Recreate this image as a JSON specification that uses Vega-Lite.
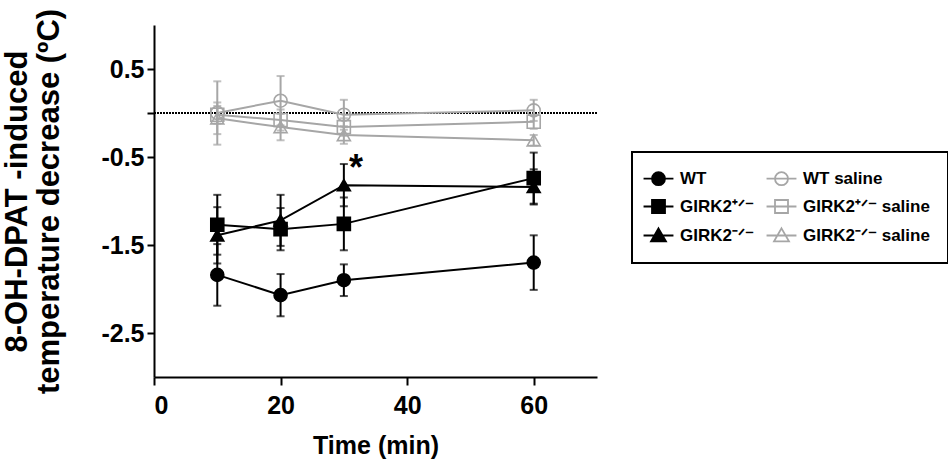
{
  "$schema": "https://vega.github.io/schema/vega-lite/v6.json",
  "width": 443,
  "height": 352,
  "autosize": {"type": "none"},
  "padding": {"left": 154, "top": 25, "right": 351, "bottom": 89},
  "background": "white",
  "config": {
    "view": {"stroke": null},
    "font": "Liberation Sans",
    "legend": {"strokeWidth": 2},
    "axis": {
      "grid": false,
      "domainColor": "black",
      "domainWidth": 2,
      "tickColor": "black",
      "tickWidth": 2,
      "tickSize": 7,
      "labelFont": "Liberation Sans",
      "labelFontSize": 25,
      "labelFontWeight": "bold",
      "labelColor": "black",
      "labelPadding": 3,
      "titleFont": "Liberation Sans",
      "titleFontSize": 25,
      "titleFontWeight": "bold",
      "titleColor": "black"
    }
  },
  "datasets": {
    "stats": [
      {"series": "WT", "time": 10, "mean": -1.84, "err": 0.35},
      {"series": "WT", "time": 20, "mean": -2.07, "err": 0.24},
      {"series": "WT", "time": 30, "mean": -1.90, "err": 0.18},
      {"series": "WT", "time": 60, "mean": -1.70, "err": 0.31},
      {"series": "GIRK2⁺ᐟ⁻", "time": 10, "mean": -1.27, "err": 0.34},
      {"series": "GIRK2⁺ᐟ⁻", "time": 20, "mean": -1.32, "err": 0.24},
      {"series": "GIRK2⁺ᐟ⁻", "time": 30, "mean": -1.26, "err": 0.30},
      {"series": "GIRK2⁺ᐟ⁻", "time": 60, "mean": -0.74, "err": 0.29},
      {"series": "GIRK2⁻ᐟ⁻", "time": 10, "mean": -1.39, "err": 0.32},
      {"series": "GIRK2⁻ᐟ⁻", "time": 20, "mean": -1.22, "err": 0.29},
      {"series": "GIRK2⁻ᐟ⁻", "time": 30, "mean": -0.82, "err": 0.24},
      {"series": "GIRK2⁻ᐟ⁻", "time": 60, "mean": -0.84, "err": 0.20},
      {"series": "WT saline", "time": 10, "mean": 0.00, "err": 0.36},
      {"series": "WT saline", "time": 20, "mean": 0.14, "err": 0.28},
      {"series": "WT saline", "time": 30, "mean": -0.02, "err": 0.17},
      {"series": "WT saline", "time": 60, "mean": 0.03, "err": 0.12},
      {"series": "GIRK2⁺ᐟ⁻ saline", "time": 10, "mean": -0.02, "err": 0.10},
      {"series": "GIRK2⁺ᐟ⁻ saline", "time": 20, "mean": -0.08, "err": 0.12},
      {"series": "GIRK2⁺ᐟ⁻ saline", "time": 30, "mean": -0.16, "err": 0.10},
      {"series": "GIRK2⁺ᐟ⁻ saline", "time": 60, "mean": -0.10, "err": 0.08},
      {"series": "GIRK2⁻ᐟ⁻ saline", "time": 10, "mean": -0.06, "err": 0.18},
      {"series": "GIRK2⁻ᐟ⁻ saline", "time": 20, "mean": -0.16, "err": 0.15},
      {"series": "GIRK2⁻ᐟ⁻ saline", "time": 30, "mean": -0.25, "err": 0.10},
      {"series": "GIRK2⁻ᐟ⁻ saline", "time": 60, "mean": -0.31, "err": 0.06}
    ],
    "zero": [{"mean": 0}],
    "notes": [{"time": 31.9, "mean": -0.76, "label": "*"}]
  },
  "data": {"name": "stats"},
  "layer": [
    {
      "layer": [
        {
          "data": {"name": "zero"},
          "mark": {"type": "rule", "strokeDash": [2, 1], "strokeWidth": 1.8, "color": "black"},
          "encoding": {
            "y": {"field": "mean", "type": "quantitative", "title": ["8-OH-DPAT -induced", "temperature decrease (ºC)"], "scale": {"domain": [-3, 1], "nice": false}}
          }
        },
        {
          "mark": {"type": "line", "strokeWidth": 2},
          "encoding": {
            "x": {"field": "time", "type": "quantitative", "title": "Time (min)"},
            "y": {"field": "mean", "type": "quantitative", "title": ["8-OH-DPAT -induced", "temperature decrease (ºC)"]},
            "detail": {"field": "series", "type": "nominal"},
            "stroke": {
              "field": "series", "type": "nominal", "legend": null,
              "scale": {
                "domain": ["WT", "GIRK2⁺ᐟ⁻", "GIRK2⁻ᐟ⁻", "WT saline", "GIRK2⁺ᐟ⁻ saline", "GIRK2⁻ᐟ⁻ saline"],
                "range": ["black", "black", "black", "#a6a6a6", "#a6a6a6", "#a6a6a6"]
              }
            }
          }
        },
        {
          "mark": {"type": "errorbar", "ticks": true, "size": 8, "thickness": 2},
          "encoding": {
            "x": {"field": "time", "type": "quantitative", "title": "Time (min)"},
            "y": {"field": "mean", "type": "quantitative", "title": ["8-OH-DPAT -induced", "temperature decrease (ºC)"]},
            "yError": {"field": "err"},
            "color": {
              "field": "series", "type": "nominal", "legend": null,
              "scale": {
                "domain": ["WT", "GIRK2⁺ᐟ⁻", "GIRK2⁻ᐟ⁻", "WT saline", "GIRK2⁺ᐟ⁻ saline", "GIRK2⁻ᐟ⁻ saline"],
                "range": ["black", "black", "black", "#a6a6a6", "#a6a6a6", "#a6a6a6"]
              }
            }
          }
        },
        {
          "mark": {"type": "point", "filled": true, "size": 169, "strokeWidth": 1.6, "opacity": 1},
          "encoding": {
            "x": {
              "field": "time", "type": "quantitative", "title": "Time (min)",
              "scale": {"domain": [0, 70], "nice": false},
              "axis": {"values": [0, 20, 40, 60], "titlePadding": 15, "tickSize": 8, "labelPadding": 8}
            },
            "y": {
              "field": "mean", "type": "quantitative",
              "title": ["8-OH-DPAT -induced", "temperature decrease (ºC)"],
              "scale": {"domain": [-3, 1], "nice": false},
              "axis": {
                "values": [0.5, 0, -0.5, -1.5, -2.5],
                "format": ".1f",
                "labelExpr": "datum.value == 0 ? '' : replace(datum.label, '−', '-')",
                "titlePadding": 35,
                "titleFontSize": 31,
                "titleLineHeight": 32
              }
            },
            "shape": {
              "field": "series", "type": "nominal", "legend": null,
              "scale": {
                "domain": ["WT", "GIRK2⁺ᐟ⁻", "GIRK2⁻ᐟ⁻", "WT saline", "GIRK2⁺ᐟ⁻ saline", "GIRK2⁻ᐟ⁻ saline"],
                "range": ["circle", "square", "triangle-up", "circle", "square", "triangle-up"]
              }
            },
            "fill": {
              "field": "series", "type": "nominal", "legend": null,
              "scale": {
                "domain": ["WT", "GIRK2⁺ᐟ⁻", "GIRK2⁻ᐟ⁻", "WT saline", "GIRK2⁺ᐟ⁻ saline", "GIRK2⁻ᐟ⁻ saline"],
                "range": ["black", "black", "black", "transparent", "transparent", "transparent"]
              }
            },
            "stroke": {
              "field": "series", "type": "nominal", "legend": null,
              "scale": {
                "domain": ["WT", "GIRK2⁺ᐟ⁻", "GIRK2⁻ᐟ⁻", "WT saline", "GIRK2⁺ᐟ⁻ saline", "GIRK2⁻ᐟ⁻ saline"],
                "range": ["black", "black", "black", "#a6a6a6", "#a6a6a6", "#a6a6a6"]
              }
            }
          }
        },
        {
          "data": {"name": "notes"},
          "mark": {"type": "text", "fontSize": 36, "fontWeight": "bold", "font": "Liberation Sans", "color": "black", "align": "center", "baseline": "alphabetic"},
          "encoding": {
            "x": {"field": "time", "type": "quantitative", "title": "Time (min)"},
            "y": {"field": "mean", "type": "quantitative", "title": ["8-OH-DPAT -induced", "temperature decrease (ºC)"]},
            "text": {"field": "label"}
          }
        }
      ]
    },
    {
      "transform": [{"filter": "datum.time > 1000"}],
      "mark": {"type": "point", "filled": true, "opacity": 1},
      "encoding": {
        "shape": {
          "field": "series", "type": "nominal",
          "scale": {
            "domain": ["WT", "GIRK2⁺ᐟ⁻", "GIRK2⁻ᐟ⁻", "WT saline", "GIRK2⁺ᐟ⁻ saline", "GIRK2⁻ᐟ⁻ saline"],
            "range": [
              "M-2.3,0L2.3,0M-1,0A1,1,0,1,1,1,0A1,1,0,1,1,-1,0Z",
              "M-2.3,0L2.3,0M-1,-1L1,-1L1,1L-1,1Z",
              "M-2.3,0L2.3,0M0,-1.1L1.15,0.9L-1.15,0.9Z",
              "M-2.3,0L2.3,0M-1,0A1,1,0,1,1,1,0A1,1,0,1,1,-1,0Z",
              "M-2.3,0L2.3,0M-1,-1L1,-1L1,1L-1,1Z",
              "M-2.3,0L2.3,0M0,-1.1L1.15,0.9L-1.15,0.9Z"
            ]
          },
          "legend": {
            "title": null,
            "orient": "none",
            "legendX": 478,
            "legendY": 127,
            "columns": 2,
            "padding": 18,
            "strokeColor": "black",
            "symbolSize": 169,
            "symbolStrokeWidth": 1.8,
            "symbolOpacity": 1,
            "labelFont": "Liberation Sans",
            "labelFontSize": 17,
            "labelFontWeight": "bold",
            "labelColor": "black",
            "labelOffset": 13,
            "rowPadding": 7,
            "columnPadding": 8,
            "labelLimit": 300
          }
        },
        "fill": {
          "field": "series", "type": "nominal",
          "scale": {
            "domain": ["WT", "GIRK2⁺ᐟ⁻", "GIRK2⁻ᐟ⁻", "WT saline", "GIRK2⁺ᐟ⁻ saline", "GIRK2⁻ᐟ⁻ saline"],
            "range": ["black", "black", "black", "transparent", "transparent", "transparent"]
          }
        },
        "stroke": {
          "field": "series", "type": "nominal",
          "scale": {
            "domain": ["WT", "GIRK2⁺ᐟ⁻", "GIRK2⁻ᐟ⁻", "WT saline", "GIRK2⁺ᐟ⁻ saline", "GIRK2⁻ᐟ⁻ saline"],
            "range": ["black", "black", "black", "#a6a6a6", "#a6a6a6", "#a6a6a6"]
          }
        }
      }
    }
  ],
  "resolve": {"scale": {"shape": "independent", "fill": "independent", "stroke": "independent"}}
}
